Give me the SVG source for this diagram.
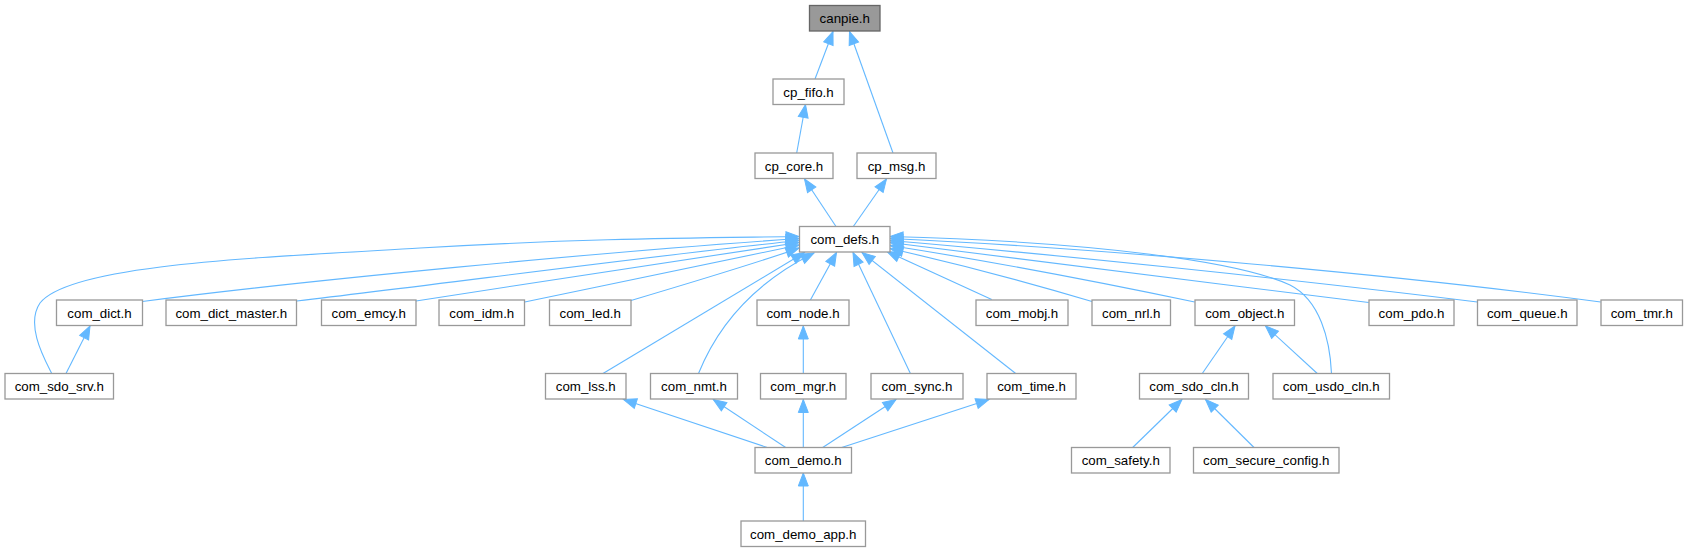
<svg xmlns="http://www.w3.org/2000/svg" width="1689" height="552" viewBox="0 0 1689 552">
<style>
.n rect{fill:#ffffff;stroke:#999999;stroke-width:1.3}
.root rect{fill:#999999;stroke:#666666;stroke-width:1.3}
text{font-family:"Liberation Sans",Arial,sans-serif;font-size:13.3px;fill:#000000;text-anchor:middle}
.e path{fill:none;stroke:#63b8ff;stroke-width:1.1;marker-end:url(#ah)}
</style>
<defs>
<marker id="ah" markerUnits="userSpaceOnUse" markerWidth="16" markerHeight="14" refX="13" refY="5" orient="auto" overflow="visible">
<path d="M0,0 L13,5 L0,10 z" fill="#63b8ff" stroke="#63b8ff" stroke-width="1"/>
</marker>
</defs>
<rect width="1689" height="552" fill="#ffffff"/>
<g id="edges" class="e">
<path d="M815,79 L833,31.5"/>
<path d="M893,153 L849.5,31.5"/>
<path d="M796.7,153 L805.5,104.5"/>
<path d="M836,226.5 L804.5,179"/>
<path d="M853.3,226.5 L886.5,179"/>
<path d="M51.7,373.5 C45,360 25,325 40,303 C70,265 250,258 420,248 C590,238 700,238 799,236.5"/>
<path d="M142.3,301.5 C300,281 600,252 799,238.5"/>
<path d="M296.7,301 C450,283 650,256 799,240.5"/>
<path d="M416,301 C550,280 700,258 799,242.5"/>
<path d="M524.7,302 C620,282 730,260 799,245"/>
<path d="M631,300.5 C700,280 760,262 799,248"/>
<path d="M603,373.5 L804.5,252.5"/>
<path d="M698.5,373.5 C712,340 740,290 814,253"/>
<path d="M810.4,300 L836.5,252.5"/>
<path d="M910.4,373.5 L853,252.5"/>
<path d="M1015.7,373.5 L862,252.5"/>
<path d="M991.7,299.5 L887,251.5"/>
<path d="M1092,301.5 C1020,280 950,262 890,248.5"/>
<path d="M1194.7,302 C1080,278 970,258 890,245.5"/>
<path d="M1368.7,302.5 C1200,282 1000,256 890,242.5"/>
<path d="M1477.3,302 C1300,280 1050,254 890,240.5"/>
<path d="M1600.7,302 C1400,275 1100,248 890,238.5"/>
<path d="M1331.5,373.5 C1330,340 1320,300 1290,285 C1240,262 1100,242 890,236.5"/>
<path d="M66,373.5 L90,326"/>
<path d="M803.3,373.5 L803.3,326"/>
<path d="M767.3,447.5 L623.5,399.5"/>
<path d="M785.7,447.5 L713.3,399.5"/>
<path d="M803.3,447.5 L803.3,399.5"/>
<path d="M822.7,447.5 L896,399.5"/>
<path d="M841.7,447.5 L989,399.5"/>
<path d="M803.3,521 L803.3,473"/>
<path d="M1202.3,373.5 L1235,326"/>
<path d="M1317.3,373.5 L1265.5,326"/>
<path d="M1132.7,447.5 L1182,399.5"/>
<path d="M1254,447.5 L1205.5,399.5"/>
</g>
<g id="canpie" class="root"><rect x="809.5" y="5.5" width="70.5" height="25.5"/><text x="844.75" y="23">canpie.h</text></g>
<g id="cp_fifo" class="n"><rect x="773" y="79" width="71" height="25.5"/><text x="808.5" y="96.5">cp_fifo.h</text></g>
<g id="cp_core" class="n"><rect x="755" y="153" width="78" height="25.5"/><text x="794" y="170.5">cp_core.h</text></g>
<g id="cp_msg" class="n"><rect x="857" y="153" width="79" height="25.5"/><text x="896.5" y="170.5">cp_msg.h</text></g>
<g id="com_defs" class="n"><rect x="799.5" y="226.5" width="90.5" height="25.5"/><text x="844.75" y="244">com_defs.h</text></g>
<g id="com_dict" class="n"><rect x="56.5" y="300" width="86" height="25.5"/><text x="99.5" y="317.5">com_dict.h</text></g>
<g id="com_dict_master" class="n"><rect x="166" y="300" width="130.5" height="25.5"/><text x="231.25" y="317.5">com_dict_master.h</text></g>
<g id="com_emcy" class="n"><rect x="321.5" y="300" width="94.5" height="25.5"/><text x="368.75" y="317.5">com_emcy.h</text></g>
<g id="com_idm" class="n"><rect x="439" y="300" width="85.5" height="25.5"/><text x="481.75" y="317.5">com_idm.h</text></g>
<g id="com_led" class="n"><rect x="549.5" y="300" width="81.5" height="25.5"/><text x="590.25" y="317.5">com_led.h</text></g>
<g id="com_node" class="n"><rect x="757" y="300" width="92" height="25.5"/><text x="803" y="317.5">com_node.h</text></g>
<g id="com_mobj" class="n"><rect x="976" y="300" width="92" height="25.5"/><text x="1022" y="317.5">com_mobj.h</text></g>
<g id="com_nrl" class="n"><rect x="1092" y="300" width="78.5" height="25.5"/><text x="1131.25" y="317.5">com_nrl.h</text></g>
<g id="com_object" class="n"><rect x="1195" y="300" width="99.5" height="25.5"/><text x="1244.75" y="317.5">com_object.h</text></g>
<g id="com_pdo" class="n"><rect x="1369" y="300" width="85" height="25.5"/><text x="1411.5" y="317.5">com_pdo.h</text></g>
<g id="com_queue" class="n"><rect x="1477.5" y="300" width="99.5" height="25.5"/><text x="1527.25" y="317.5">com_queue.h</text></g>
<g id="com_tmr" class="n"><rect x="1601" y="300" width="81.5" height="25.5"/><text x="1641.75" y="317.5">com_tmr.h</text></g>
<g id="com_sdo_srv" class="n"><rect x="5" y="373.5" width="108.5" height="25.5"/><text x="59.25" y="391">com_sdo_srv.h</text></g>
<g id="com_lss" class="n"><rect x="545.5" y="373.5" width="80.5" height="25.5"/><text x="585.75" y="391">com_lss.h</text></g>
<g id="com_nmt" class="n"><rect x="650.5" y="373.5" width="87" height="25.5"/><text x="694" y="391">com_nmt.h</text></g>
<g id="com_mgr" class="n"><rect x="760.5" y="373.5" width="85.5" height="25.5"/><text x="803.25" y="391">com_mgr.h</text></g>
<g id="com_sync" class="n"><rect x="871" y="373.5" width="92" height="25.5"/><text x="917" y="391">com_sync.h</text></g>
<g id="com_time" class="n"><rect x="987" y="373.5" width="89" height="25.5"/><text x="1031.5" y="391">com_time.h</text></g>
<g id="com_sdo_cln" class="n"><rect x="1139.5" y="373.5" width="109" height="25.5"/><text x="1194" y="391">com_sdo_cln.h</text></g>
<g id="com_usdo_cln" class="n"><rect x="1273" y="373.5" width="116.5" height="25.5"/><text x="1331.25" y="391">com_usdo_cln.h</text></g>
<g id="com_demo" class="n"><rect x="755" y="447.5" width="96.5" height="25.5"/><text x="803.25" y="465">com_demo.h</text></g>
<g id="com_safety" class="n"><rect x="1071.5" y="447.5" width="98.5" height="25.5"/><text x="1120.75" y="465">com_safety.h</text></g>
<g id="com_secure_config" class="n"><rect x="1193.5" y="447.5" width="145.5" height="25.5"/><text x="1266.25" y="465">com_secure_config.h</text></g>
<g id="com_demo_app" class="n"><rect x="741" y="521" width="124.5" height="25.5"/><text x="803.25" y="538.5">com_demo_app.h</text></g>
</svg>
